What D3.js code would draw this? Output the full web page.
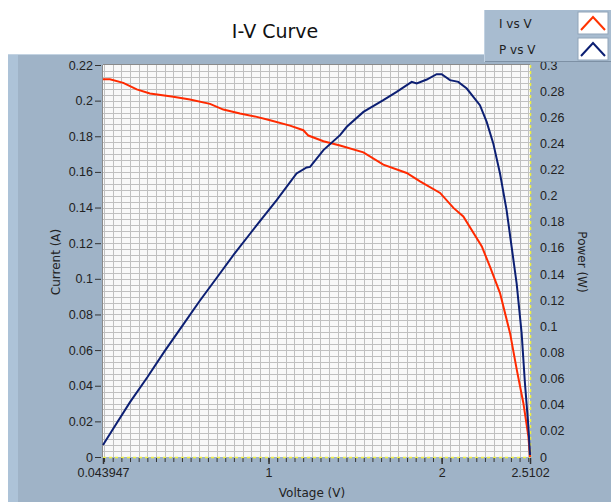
<!DOCTYPE html>
<html>
<head>
<meta charset="utf-8">
<script src="https://cdn.jsdelivr.net/npm/d3@7"></script>
<style>
  body { margin: 0; background: #fff; }
  svg { display: block; font-family: "DejaVu Sans", Verdana, sans-serif; }
</style>
</head>
<body>
<div id="chart"></div>
<script>
// Voltage / current samples
const ivVoltage = [0.0439, 0.084, 0.161, 0.239, 0.315, 0.45, 0.546, 0.662, 0.739, 0.835, 0.932,
  1.009, 1.124, 1.201, 1.23, 1.317, 1.413, 1.548, 1.663, 1.798, 1.875, 1.991, 2.068, 2.125,
  2.232, 2.28, 2.337, 2.395, 2.434, 2.472, 2.501, 2.5102];
const ivCurrent = [0.212, 0.212, 0.210, 0.2063, 0.204, 0.2022, 0.2006, 0.1982, 0.195, 0.1928, 0.1909,
  0.189, 0.186, 0.1834, 0.1804, 0.1772, 0.1748, 0.171, 0.1641, 0.1594, 0.1547, 0.1482, 0.1398, 0.135,
  0.1182, 0.1065, 0.092, 0.0695, 0.0489, 0.0302, 0.0114, 0];

// Voltage / power samples
const pvVoltage = [0.0439, 0.1, 0.2, 0.3, 0.4, 0.5, 0.6, 0.7, 0.8, 0.9, 1.047, 1.162, 1.22, 1.24,
  1.317, 1.413, 1.452, 1.548, 1.663, 1.74, 1.827, 1.856, 1.914, 1.971, 2.0, 2.048, 2.096, 2.145,
  2.183, 2.221, 2.26, 2.298, 2.337, 2.375, 2.404, 2.433, 2.462, 2.481, 2.501, 2.5102];
const pvPower = [0.0092, 0.021, 0.042, 0.061, 0.081, 0.1, 0.119, 0.137, 0.155, 0.172, 0.1966, 0.217,
  0.2216, 0.222, 0.2349, 0.2463, 0.2527, 0.2641, 0.2731, 0.2795, 0.2871, 0.2859, 0.2889, 0.293, 0.293,
  0.2884, 0.2871, 0.282, 0.2756, 0.2692, 0.2565, 0.24, 0.217, 0.189, 0.1609, 0.1329, 0.0946, 0.0564,
  0.0232, 0.0015];

const xTickValues = [0.043947, 1, 2, 2.5102];
const xTickLabels = ['0.043947', '1', '2', '2.5102'];
const currentTicks = d3.range(0, 0.2201, 0.02);
const powerTicks = d3.range(0, 0.3001, 0.02);

const width = 611, height = 502;
const plot = { left: 103, right: 530, top: 65, bottom: 457 };

const svg = d3.select('#chart').append('svg')
  .attr('width', width)
  .attr('height', height);

// Panel behind the graph
svg.append('rect')
  .attr('x', 8).attr('y', 54)
  .attr('width', width - 8).attr('height', height - 54)
  .style('fill', '#9fb3c7');
svg.append('rect')
  .attr('x', 8).attr('y', 54)
  .attr('width', 10).attr('height', height - 54)
  .style('fill', '#adc3d8');
svg.append('line')
  .attr('x1', 8).attr('x2', width).attr('y1', 54.5).attr('y2', 54.5)
  .style('stroke', '#c3d3e2');

// Title
svg.append('text')
  .attr('x', 275).attr('y', 38)
  .style('text-anchor', 'middle')
  .style('font-size', '19px')
  .style('fill', '#111')
  .text('I-V Curve');

const x = d3.scaleLinear().domain([0.043947, 2.5102]).range([plot.left, plot.right]);
const yI = d3.scaleLinear().domain([0, 0.22]).range([plot.bottom, plot.top]);
const yP = d3.scaleLinear().domain([0, 0.3]).range([plot.bottom, plot.top]);

// Plot background
svg.append('rect')
  .attr('x', plot.left).attr('y', plot.top)
  .attr('width', plot.right - plot.left).attr('height', plot.bottom - plot.top)
  .style('fill', '#f9f9f9');

// Grid
const gridX = d3.range(0.05, 2.51, 0.05);
const gridY = d3.range(1, 66).map(i => i * 0.02 / 6);
svg.append('g').selectAll('line')
  .data(gridX)
  .enter()
  .append('line')
  .attr('x1', d => Math.round(x(d)) + 0.5).attr('x2', d => Math.round(x(d)) + 0.5)
  .attr('y1', plot.top).attr('y2', plot.bottom)
  .style('stroke', '#c0c0c0');
svg.append('g').selectAll('line')
  .data(gridY)
  .enter()
  .append('line')
  .attr('x1', plot.left).attr('x2', plot.right)
  .attr('y1', d => Math.round(yI(d)) + 0.5).attr('y2', d => Math.round(yI(d)) + 0.5)
  .style('stroke', '#c0c0c0');

// Frame
svg.append('line')
  .attr('x1', plot.left - 0.5).attr('x2', plot.left - 0.5)
  .attr('y1', plot.top).attr('y2', plot.bottom)
  .style('stroke', '#8a8a8a');
svg.append('line')
  .attr('x1', plot.left).attr('x2', plot.right)
  .attr('y1', plot.top - 0.5).attr('y2', plot.top - 0.5)
  .style('stroke', '#8a8a8a');

// Yellow dashed cursor lines
svg.append('line')
  .attr('x1', plot.right + 0.5).attr('x2', plot.right + 0.5)
  .attr('y1', plot.top).attr('y2', plot.bottom)
  .style('stroke', '#f0f040').style('stroke-width', 1.5).style('stroke-dasharray', '3,3');
svg.append('line')
  .attr('x1', plot.left).attr('x2', plot.right)
  .attr('y1', plot.bottom + 0.5).attr('y2', plot.bottom + 0.5)
  .style('stroke', '#f0f040').style('stroke-width', 1.5).style('stroke-dasharray', '3,3');

// Left axis
const leftAxis = svg.append('g')
  .attr('transform', `translate(${plot.left - 2},0)`)
  .call(d3.axisLeft(yI).tickValues(currentTicks).tickSize(6).tickPadding(2)
    .tickFormat(d => d3.format('~g')(+d.toFixed(2))));
leftAxis.select('.domain').remove();
leftAxis.selectAll('line').style('stroke', '#333');
leftAxis.selectAll('text').style('font-size', '12.5px').style('fill', '#222');

// Right axis
const rightAxis = svg.append('g')
  .attr('transform', `translate(${plot.right},0)`)
  .call(d3.axisRight(yP).tickValues(powerTicks).tickSize(0).tickPadding(10)
    .tickFormat(d => d3.format('~g')(+d.toFixed(2))));
rightAxis.select('.domain').remove();
rightAxis.selectAll('text').style('font-size', '12.5px').style('fill', '#222');

// Bottom axis: minor ticks every 0.05 V, labels at ends and whole volts
const minorAxis = svg.append('g')
  .attr('transform', `translate(0,${plot.bottom + 1})`)
  .call(d3.axisBottom(x).tickValues(gridX).tickSize(4).tickFormat(''));
minorAxis.select('.domain').remove();
minorAxis.selectAll('line').style('stroke', '#333');
const bottomAxis = svg.append('g')
  .attr('transform', `translate(0,${plot.bottom + 1})`)
  .call(d3.axisBottom(x).tickValues(xTickValues).tickSize(6).tickPadding(4)
    .tickFormat((d, i) => xTickLabels[i]));
bottomAxis.select('.domain').remove();
bottomAxis.selectAll('line').style('stroke', '#333').style('stroke-width', 1.5);
bottomAxis.selectAll('text').style('font-size', '12.5px').style('fill', '#222');

// Axis titles
svg.append('text')
  .attr('transform', 'rotate(-90)')
  .attr('x', -262).attr('y', 60)
  .style('text-anchor', 'middle')
  .style('font-size', '12px')
  .style('fill', '#222')
  .text('Current (A)');
svg.append('text')
  .attr('transform', 'rotate(90)')
  .attr('x', 262).attr('y', -578)
  .style('text-anchor', 'middle')
  .style('font-size', '12px')
  .style('fill', '#222')
  .text('Power (W)');
svg.append('text')
  .attr('x', 312).attr('y', 497)
  .style('text-anchor', 'middle')
  .style('font-size', '12px')
  .style('fill', '#222')
  .text('Voltage (V)');

// Curves
const ivData = ivVoltage.map((v, i) => ({ v, val: ivCurrent[i] }));
const pvData = pvVoltage.map((v, i) => ({ v, val: pvPower[i] }));

svg.append('path')
  .datum(ivData)
  .attr('d', d3.line().x(d => x(d.v)).y(d => yI(d.val)))
  .style('fill', 'none')
  .style('stroke', '#ff2a00')
  .style('stroke-width', 2);
svg.append('path')
  .datum(pvData)
  .attr('d', d3.line().x(d => x(d.v)).y(d => yP(d.val)))
  .style('fill', 'none')
  .style('stroke', '#0c1f73')
  .style('stroke-width', 2);

// Legend
const legend = svg.append('g');
legend.append('rect')
  .attr('x', 484).attr('y', 10)
  .attr('width', 127).attr('height', 52)
  .style('fill', '#a8bcd0');
legend.append('line')
  .attr('x1', 484).attr('x2', 611).attr('y1', 61.5).attr('y2', 61.5)
  .style('stroke', '#7d90a4');
legend.append('line')
  .attr('x1', 484.5).attr('x2', 484.5).attr('y1', 10).attr('y2', 62)
  .style('stroke', '#c2d2e2');
const legendItems = [
  { name: 'I vs V', color: '#ff3300' },
  { name: 'P vs V', color: '#0c1f73' }
];
legendItems.forEach((item, i) => {
  const y0 = 12 + i * 26;
  legend.append('text')
    .attr('x', 499).attr('y', y0 + 16)
    .style('font-size', '12px')
    .style('fill', '#222')
    .text(item.name);
  legend.append('rect')
    .attr('x', 578).attr('y', y0)
    .attr('width', 30).attr('height', 22)
    .style('fill', '#fff')
    .style('stroke', '#8fa3b8');
  legend.append('path')
    .attr('d', `M${581},${y0 + 18}L${593},${y0 + 5}L${605},${y0 + 18}`)
    .style('fill', 'none')
    .style('stroke', item.color)
    .style('stroke-width', 2);
});
</script>
</body>
</html>
